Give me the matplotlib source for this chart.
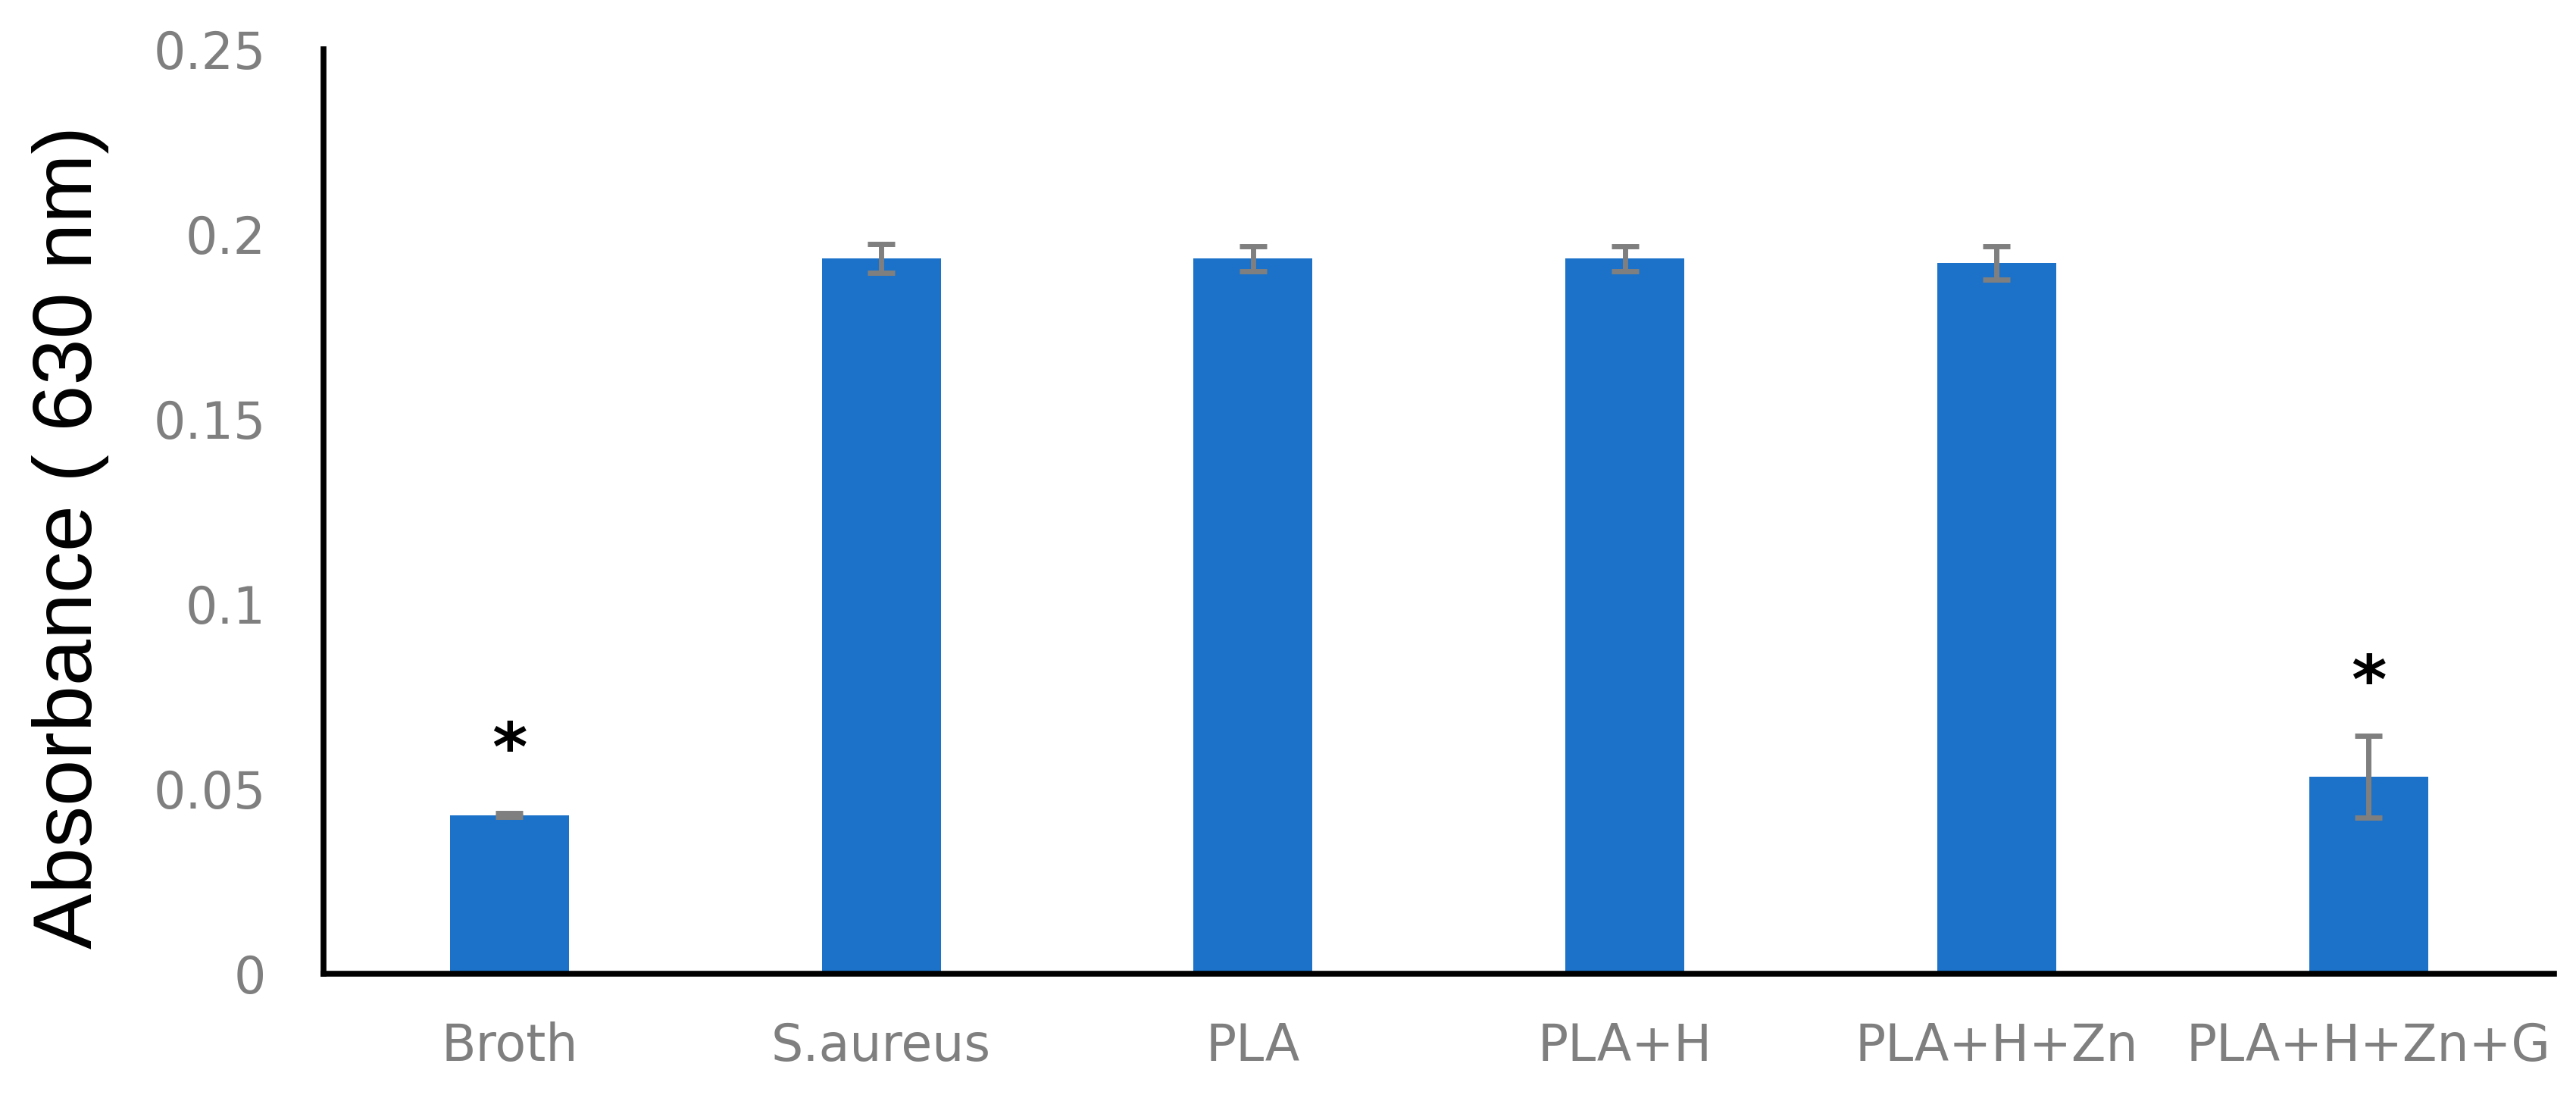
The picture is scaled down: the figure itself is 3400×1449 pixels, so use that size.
import numpy as np
import matplotlib
matplotlib.use('Agg')
import matplotlib.pyplot as plt

groups = ['Broth', 'S.aureus', 'PLA', 'PLA+H', 'PLA+H+Zn', 'PLA+H+Zn+G']
absorb = [0.0429, 0.1934, 0.1934, 0.1934, 0.1922, 0.0533]
err = [0.0005, 0.0039, 0.0033, 0.0033, 0.0045, 0.011]
star_y = [0.0600, None, None, None, None, 0.0782]   # significance marks
yticks = [0, 0.05, 0.1, 0.15, 0.2, 0.25]
ytick_labels = ['0', '0.05', '0.1', '0.15', '0.2', '0.25']

fig = plt.figure(figsize=(34, 14.49), dpi=100)
ax = fig.add_axes([0.1256, 0.113, 0.866, 0.842])

x = np.arange(len(groups))
ax.bar(x, absorb, width=0.32, color='#1B72C8', zorder=2)
ax.errorbar(x, absorb, yerr=err, fmt='none', ecolor='#7F7F7F',
            elinewidth=5, capsize=13, capthick=5, zorder=3)

for xi, sy in zip(x, star_y):
    if sy is not None:
        ax.text(xi, sy, '*', ha='center', va='center', fontsize=64,
                fontweight='bold', color='black')

ax.set_xlim(-0.5, 5.5)
ax.set_ylim(0, 0.25)
ax.set_yticks(yticks)
ax.set_yticklabels(ytick_labels)
ax.set_xticks(x)
ax.set_xticklabels(groups)
ax.tick_params(axis='both', length=0, labelsize=48, labelcolor='#7F7F7F')
ax.tick_params(axis='y', pad=55)
ax.tick_params(axis='x', pad=45)

for side in ['top', 'right']:
    ax.spines[side].set_visible(False)
ax.spines['left'].set_linewidth(5.5)
ax.spines['bottom'].set_linewidth(5.5)

ax.set_ylabel('Absorbance ( 630 nm)', fontsize=79,
              family=['Liberation Sans Narrow', 'Liberation Sans'], color='black')
ax.yaxis.set_label_coords(-0.096, 0.472)

fig.savefig('out.png', dpi=100, facecolor='white')
